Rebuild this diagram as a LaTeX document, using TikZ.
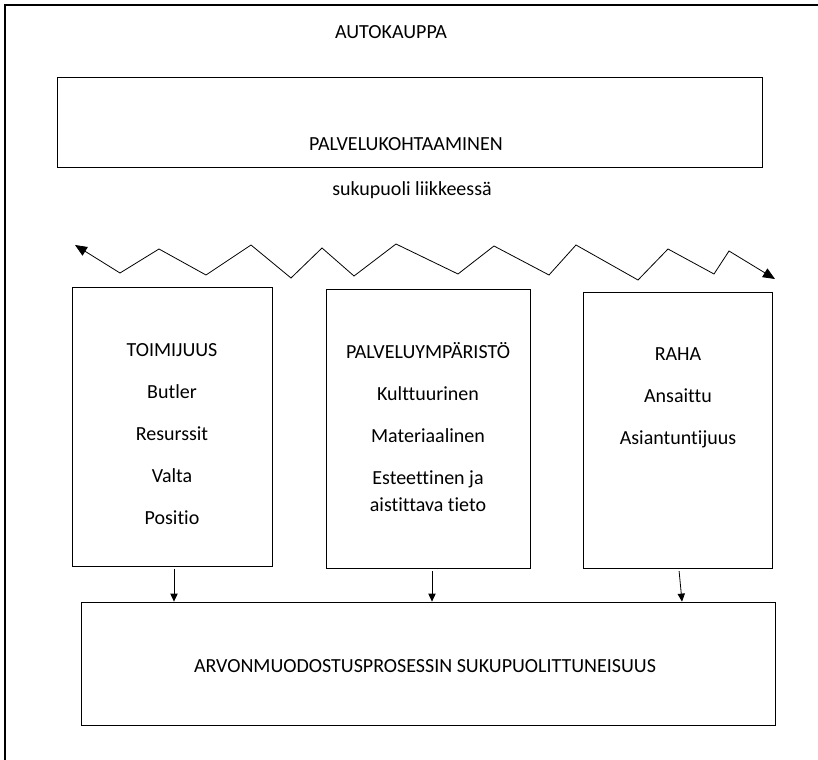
\documentclass[tikz,border=0pt]{standalone}
\usepackage{fontspec}
\setmainfont{Carlito}[Ligatures=NoCommon]
\usetikzlibrary{arrows.meta,fit,positioning}
\tikzset{
  laatikko/.style={draw, line width=0.6pt, inner sep=0pt},
  teksti/.style={font=\fontsize{15}{20}\selectfont, align=center, inner sep=0pt},
  nuoli/.style={-{Triangle[length=6pt,width=5.5pt]}, line width=0.6pt, shorten <=2pt},
  kaksinuoli/.style={{Triangle[length=9pt,width=7.5pt]}-{Triangle[length=9pt,width=7.5pt]}, line width=0.6pt},
}
\begin{document}
\begin{tikzpicture}[x=0.75pt,y=-0.75pt]
    \useasboundingbox (0,0) rectangle (818,760);
    \draw[line width=0.8pt] (5,760) -- (5,5) -- (818,5);%kehys
    \node[teksti] (otsikko) at (391,32) {AUTOKAUPPA};
    \node[laatikko, fit={(57,77) (762,167)}] (kohtaaminen) {};
    \node[teksti] (kohtaaminentxt) at (406,144) {PALVELUKOHTAAMINEN};
    \node[teksti] (liike) at (412,190) {sukupuoli liikkeessä};
    %siksak
    \coordinate (zl) at (75,245);
    \coordinate (zr) at (775,279);
    \draw[kaksinuoli] (zl) -- (120,273) -- (159,249) -- (206,275) -- (251,245) -- (291,278) -- (322,248) -- (354,276) -- (396,244) -- (458,274) -- (494,246) -- (549,275) -- (576,245) -- (638,280) -- (668,249) -- (714,274) -- (729,251) -- (zr);
    %laatikot
    \node[laatikko, fit={(72,287) (272,566)}] (toimijuus) {};
    \node[laatikko, fit={(326,289) (530,568)}] (ymparisto) {};
    \node[laatikko, fit={(583,292) (772,568)}] (raha) {};
    \node[laatikko, fit={(81,602) (775,725)}] (arvo) {};
    \node[teksti, anchor=north] (toimijuustxt) at (172,338) {\strut TOIMIJUUS\\[11.5pt]Butler\\[11.5pt]Resurssit\\[11.5pt]Valta\\[11.5pt]Positio};
    \node[teksti, anchor=north] (ymparistotxt) at (428,340) {\strut PALVELUYMPÄRISTÖ\\[11.5pt]Kulttuurinen\\[11.5pt]Materiaalinen\\[11.5pt]Esteettinen ja\\aistittava tieto};
    \node[teksti, anchor=north] (rahatxt) at (678,342) {\strut RAHA\\[11.5pt]Ansaittu\\[11.5pt]Asiantuntijuus};
    \node[teksti] (arvotxt) at (425,666) {ARVONMUODOSTUSPROSESSIN SUKUPUOLITTUNEISUUS};
    %nuolet
    \draw[nuoli] ([xshift=1.5pt]toimijuus.south) -- ([xshift=1.5pt]toimijuus.south |- arvo.north);
    \draw[nuoli] ([xshift=3pt]ymparisto.south) -- ([xshift=3pt]ymparisto.south |- arvo.north);
    \draw[nuoli] ([xshift=1pt]raha.south) -- ([xshift=3.4pt]raha.south |- arvo.north);
\end{tikzpicture}
\end{document}
